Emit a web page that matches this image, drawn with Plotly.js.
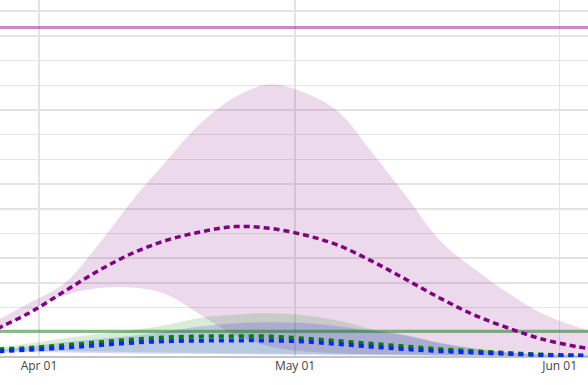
<!DOCTYPE html>
<html>
<head>
<meta charset="utf-8">
<script src="https://cdn.plot.ly/plotly-3.0.1.min.js"></script>
<style>html,body{margin:0;padding:0;background:#fff;}#chart{width:588px;height:385px;}</style>
</head>
<body>
<div id="chart"></div>
<script>
const dates = ['2020-03-25','2020-03-27','2020-03-31','2020-04-04','2020-04-08','2020-04-12','2020-04-16','2020-04-20','2020-04-24','2020-04-28','2020-05-02','2020-05-06','2020-05-10','2020-05-14','2020-05-18','2020-05-22','2020-05-26','2020-05-30','2020-06-03','2020-06-05'];

const bedsMean  = [80,113,181,266,350,421,473,507,528,521,495,453,388,314,238,170,117,72,42,32];
const bedsUpper = [129,149,222,299,457,637,797,948,1053,1104,1072,995,829,652,471,356,258,175,122,100];
const bedsLower = [76,100,189,250,279,281,252,169,88,44,23,15,12,10,8,7,6,5,4,4];

const icuMean  = [27.5,30.8,37.2,47.8,59.9,70.9,79.4,83.4,84.2,83,74.9,64.8,53.4,42.5,31.6,23.5,15.8,9.7,6.1,4.9];
const icuUpper = [31.6,37.7,55.9,76.1,94.3,108.5,130.8,159.1,170.9,177.3,169.2,147.8,112.6,89.1,57.9,35.6,17.4,11.3,7.3,5.3];
const icuLower = [20,22,24,24,22,20,18,17,15,14,12,11,9,8,6,5,4,3,2.5,2];

const ventMean  = [19.4,22.7,29.6,37.7,47.8,57.9,64,66,67.2,66.8,62.8,52.6,41.7,31.6,23.5,17.8,12.6,8.1,5.7,4.5];
const ventUpper = [23.5,28.3,43.7,59.9,74.1,86.2,104.5,124.7,136.8,140.9,138.1,124.7,106.5,86.2,55.9,33.6,17.4,10.5,6.5,4.9];
const ventLower = [17,18,19,18,16,14,13,12,11,10,9,8,7,6,5,4,3,2.5,2,2];

const capacityDates = ['2020-03-20','2020-06-10'];
const bedsAvailable = [1334,1334];
const icuAvailable  = [104,104];

const traces = [
  {x:dates,y:bedsLower,mode:'lines',line:{width:0,shape:'spline'},hoverinfo:'skip'},
  {x:dates,y:bedsUpper,mode:'lines',line:{width:0,shape:'spline'},fill:'tonexty',fillcolor:'rgba(128,0,128,0.15)',hoverinfo:'skip'},
  {x:dates,y:icuLower,mode:'lines',line:{width:0,shape:'spline'},hoverinfo:'skip'},
  {x:dates,y:icuUpper,mode:'lines',line:{width:0,shape:'spline'},fill:'tonexty',fillcolor:'rgba(0,128,0,0.15)',hoverinfo:'skip'},
  {x:dates,y:ventLower,mode:'lines',line:{width:0,shape:'spline'},hoverinfo:'skip'},
  {x:dates,y:ventUpper,mode:'lines',line:{width:0,shape:'spline'},fill:'tonexty',fillcolor:'rgba(0,0,255,0.15)',hoverinfo:'skip'},
  {x:capacityDates,y:bedsAvailable,mode:'lines',line:{color:'rgba(128,0,128,0.45)',width:3}},
  {x:capacityDates,y:icuAvailable,mode:'lines',line:{color:'rgba(0,128,0,0.5)',width:3}},
  {x:dates,y:bedsMean,mode:'lines',line:{color:'rgb(128,0,128)',width:3.5,dash:'6px,4px',shape:'spline'}},
  {x:dates,y:icuMean,mode:'lines',line:{color:'rgb(0,128,0)',width:4,dash:'5px,5px',shape:'spline'}},
  {x:dates,y:ventMean,mode:'lines',line:{color:'rgb(0,40,255)',width:4,dash:'5px,5px',shape:'spline'}}
];

const layout = {
  width:588,height:385,
  margin:{l:0,r:0,t:0,b:28,pad:0},
  paper_bgcolor:'#fff',plot_bgcolor:'#fff',
  showlegend:false,
  font:{family:'"Open Sans", verdana, arial, sans-serif',size:12,color:'#444'},
  xaxis:{type:'date',range:['2020-03-27 10:21','2020-06-04 07:40'],tick0:'2020-04-01',dtick:'M1',tickformat:'%b %d',
         showgrid:true,gridcolor:'#e4e4e4',gridwidth:1.5,zeroline:false,showline:false,ticks:''},
  yaxis:{range:[0,1445.4],dtick:100,showgrid:true,gridcolor:'#e4e4e4',gridwidth:1.5,showticklabels:false,
         zeroline:true,zerolinecolor:'#c4c4c4',zerolinewidth:1.5,ticks:''}
};

Plotly.newPlot('chart',traces,layout,{displayModeBar:false,staticPlot:true});
</script>
</body>
</html>
